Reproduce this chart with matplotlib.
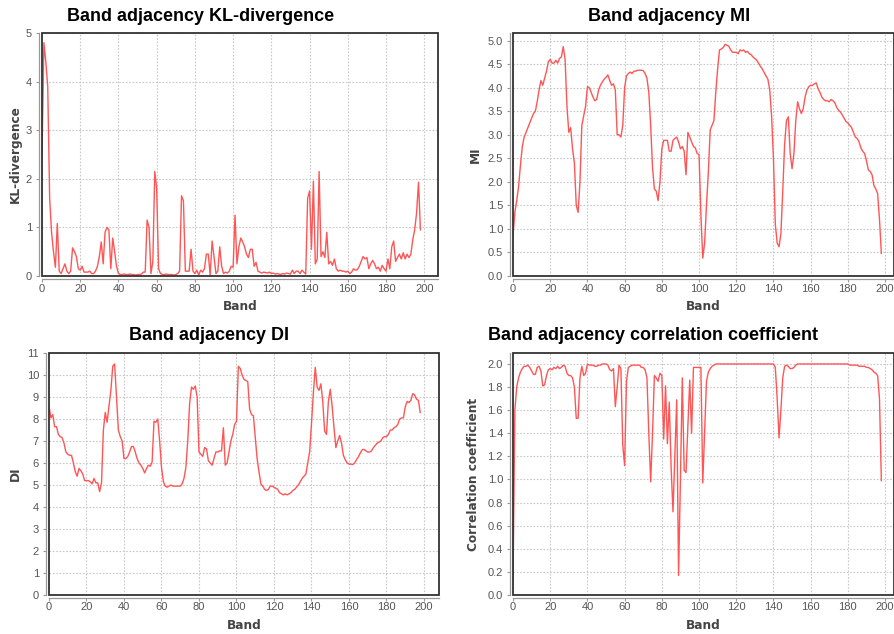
import numpy as np
import matplotlib
matplotlib.use('Agg')
import matplotlib.pyplot as plt
from matplotlib.ticker import MultipleLocator, FormatStrFormatter
from matplotlib.patches import Rectangle

W, H = 895, 634
plt.rcParams['font.family'] = ['Liberation Sans', 'DejaVu Sans']

bands = np.arange(199)

kl_div = [
    2.5, 4.8, 4.4, 3.9, 1.6, 0.9, 0.5, 0.18, 1.08, 0.1,
    0.05, 0.15, 0.25, 0.1, 0.05, 0.1, 0.58, 0.5, 0.4, 0.15,
    0.12, 0.2, 0.08, 0.08, 0.08, 0.1, 0.05, 0.05, 0.1, 0.2,
    0.4, 0.7, 0.25, 0.9, 1.0, 0.95, 0.15, 0.78, 0.5, 0.2,
    0.05, 0.03, 0.03, 0.04, 0.03, 0.03, 0.04, 0.03, 0.03, 0.02,
    0.03, 0.03, 0.04, 0.08, 0.08, 1.15, 1.0, 0.05, 0.3, 2.15,
    1.8, 0.15, 0.05, 0.03, 0.03, 0.04, 0.03, 0.03, 0.03, 0.02,
    0.03, 0.05, 0.1, 1.65, 1.55, 0.1, 0.1, 0.1, 0.55, 0.1,
    0.05, 0.12, 0.02, 0.12, 0.08, 0.15, 0.45, 0.45, 0.02, 0.72,
    0.4, 0.05, 0.1, 0.6, 0.2, 0.05, 0.08, 0.06, 0.1, 0.2,
    0.18, 1.25, 0.25, 0.6, 0.78, 0.7, 0.6, 0.45, 0.38, 0.55,
    0.55, 0.2, 0.28, 0.1, 0.08, 0.06, 0.08, 0.07, 0.06, 0.08,
    0.05, 0.06, 0.04, 0.05, 0.04, 0.03, 0.05, 0.04, 0.06, 0.05,
    0.04, 0.12, 0.05, 0.1, 0.1, 0.05, 0.12, 0.08, 0.04, 1.6,
    1.75, 0.55, 1.95, 0.25, 0.35, 2.15, 0.4, 0.5, 0.38, 0.9,
    0.25, 0.3, 0.22, 0.35, 0.15, 0.1, 0.12, 0.1, 0.1, 0.08,
    0.1, 0.05, 0.08, 0.15, 0.12, 0.13, 0.2, 0.3, 0.4, 0.35,
    0.38, 0.15, 0.25, 0.32, 0.25, 0.15, 0.18, 0.1, 0.22, 0.15,
    0.1, 0.35, 0.15, 0.6, 0.72, 0.3, 0.38, 0.45, 0.35, 0.48,
    0.35, 0.45, 0.38, 0.45, 0.75, 0.95, 1.3, 1.93, 0.95,
]

mi = [
    0.85, 1.35, 1.6, 1.9, 2.35, 2.75, 2.95, 3.05, 3.15, 3.25,
    3.35, 3.45, 3.5, 3.7, 3.95, 4.15, 4.05, 4.2, 4.35, 4.55,
    4.6, 4.52, 4.52, 4.58, 4.52, 4.62, 4.65, 4.87, 4.6, 3.6,
    3.05, 3.15, 2.7, 2.4, 1.5, 1.35, 2.0, 3.2, 3.4, 3.6,
    4.02, 4.0, 3.9, 3.8, 3.72, 3.75, 3.95, 4.05, 4.12, 4.18,
    4.22, 4.27, 4.15, 4.05, 4.08, 3.95, 3.0, 3.0, 2.95, 3.2,
    4.0, 4.25, 4.3, 4.33, 4.3, 4.35, 4.35, 4.37, 4.37, 4.37,
    4.36, 4.3, 4.2, 3.9, 3.2, 2.3, 1.85, 1.8, 1.6, 2.0,
    2.7, 2.88, 2.88, 2.88, 2.65, 2.65, 2.88, 2.92, 2.95, 2.85,
    2.7, 2.75, 2.65, 2.15, 3.05, 2.95, 2.85, 2.75, 2.72, 2.6,
    2.58, 1.3, 0.38, 0.7, 1.5, 2.2, 3.1, 3.2, 3.3, 3.9,
    4.4, 4.8, 4.82, 4.85, 4.92, 4.9, 4.88, 4.8, 4.75, 4.75,
    4.75, 4.72, 4.8, 4.78, 4.8, 4.75, 4.77, 4.72, 4.7, 4.65,
    4.62, 4.58, 4.52, 4.45, 4.4, 4.32, 4.25, 4.18, 3.95, 3.4,
    2.5, 1.1, 0.7, 0.62, 0.9, 1.8, 2.8, 3.3, 3.38, 2.6,
    2.28, 2.6, 3.3, 3.7, 3.55, 3.45, 3.55, 3.8, 3.95, 4.02,
    4.05, 4.05, 4.08, 4.1, 3.98, 3.9, 3.8, 3.75, 3.72, 3.72,
    3.7, 3.75, 3.72, 3.68, 3.58, 3.52, 3.48, 3.42, 3.35, 3.28,
    3.25, 3.2, 3.15, 3.05, 2.95, 2.92, 2.85, 2.72, 2.65, 2.6,
    2.45, 2.25, 2.22, 2.15, 1.92, 1.85, 1.75, 1.2, 0.48,
]

di = [
    8.6, 8.05, 8.2, 7.65, 7.65, 7.3, 7.2, 7.15, 6.9, 6.5,
    6.4, 6.35, 6.35, 6.0, 5.6, 5.4, 5.75, 5.65, 5.5, 5.2,
    5.2, 5.2, 5.15, 5.05, 5.3, 5.1, 5.1, 4.7, 5.1, 7.5,
    8.3, 7.85, 8.6, 9.3, 10.4, 10.5, 9.0, 7.5, 7.2, 7.0,
    6.2, 6.2, 6.3, 6.5, 6.75, 6.75, 6.5, 6.2, 6.0, 5.9,
    5.75, 5.55, 5.75, 5.9, 5.85, 6.05, 7.9, 7.85, 8.0, 7.0,
    5.8, 5.15, 4.95, 4.9, 4.95, 5.0, 4.95, 4.95, 4.95, 4.95,
    4.95, 5.05, 5.3, 5.8, 7.0, 8.7, 9.45, 9.35, 9.5, 9.0,
    6.5, 6.4, 6.3, 6.7, 6.65, 6.1, 6.0, 5.9, 6.2, 6.5,
    6.5, 6.55, 6.55, 7.6, 5.9, 6.0, 6.5, 7.0, 7.3, 7.75,
    7.9, 10.4, 10.3, 10.0, 9.8, 9.75, 9.7, 8.45, 8.2, 8.15,
    7.2, 6.2, 5.6, 5.05, 4.95, 4.8, 4.75, 4.8, 4.95, 4.95,
    4.9, 4.85, 4.8, 4.65, 4.6, 4.55, 4.6, 4.55, 4.6, 4.65,
    4.75, 4.8, 4.9, 5.0, 5.15, 5.3, 5.4, 5.5, 6.0, 6.5,
    7.8, 9.2, 10.35, 9.45, 9.3, 9.6, 8.8, 7.45, 7.3, 8.8,
    9.35, 8.6, 7.6, 6.7, 7.0, 7.25, 6.9, 6.35, 6.15, 6.0,
    5.95, 5.95, 5.93, 6.0, 6.15, 6.28, 6.45, 6.6, 6.62, 6.55,
    6.5, 6.5, 6.55, 6.7, 6.8, 6.9, 6.95, 7.0, 7.15, 7.2,
    7.2, 7.3, 7.5, 7.5, 7.6, 7.65, 7.75, 8.0, 8.05, 8.05,
    8.55, 8.8, 8.75, 8.85, 9.15, 9.1, 8.9, 8.85, 8.3,
]

corr = [
    0.13, 1.6, 1.8, 1.88, 1.93, 1.96, 1.98, 1.98, 1.99, 1.97,
    1.94, 1.91, 1.91, 1.97, 1.98, 1.94, 1.81, 1.82, 1.9, 1.95,
    1.96, 1.95, 1.97, 1.96, 1.98, 1.96, 1.97, 1.99, 1.98, 1.92,
    1.9, 1.9, 1.88, 1.8, 1.53, 1.53, 1.88, 1.98, 1.9, 1.92,
    2.0, 1.99, 1.99, 1.99, 1.98, 1.98, 1.99, 1.99, 2.0, 2.0,
    2.0, 1.99, 1.95, 1.94, 1.96, 1.63, 1.8, 1.99, 1.96, 1.3,
    1.12, 1.85, 1.97, 1.98, 1.99, 1.99, 1.99, 1.99, 1.99, 1.97,
    1.97, 1.95, 1.88, 1.4, 0.98, 1.4, 1.9, 1.88, 1.85, 1.92,
    1.9, 1.35, 1.81, 1.31, 1.67, 1.1, 0.72, 1.2, 1.69, 0.17,
    1.0, 1.88, 1.08, 1.06, 1.45, 1.86, 1.4, 1.97, 1.97, 1.97,
    1.97, 1.97, 0.97, 1.4, 1.85, 1.93, 1.96, 1.98, 1.99, 2.0,
    2.0, 2.0, 2.0, 2.0, 2.0, 2.0, 2.0, 2.0, 2.0, 2.0,
    2.0, 2.0, 2.0, 2.0, 2.0, 2.0, 2.0, 2.0, 2.0, 2.0,
    2.0, 2.0, 2.0, 2.0, 2.0, 2.0, 2.0, 2.0, 2.0, 2.0,
    2.0, 1.97, 1.7, 1.36, 1.6, 1.88, 1.98, 1.99, 1.98, 1.96,
    1.96, 1.97, 1.99, 2.0, 2.0, 2.0, 2.0, 2.0, 2.0, 2.0,
    2.0, 2.0, 2.0, 2.0, 2.0, 2.0, 2.0, 2.0, 2.0, 2.0,
    2.0, 2.0, 2.0, 2.0, 2.0, 2.0, 2.0, 2.0, 2.0, 2.0,
    2.0, 1.99, 1.99, 1.99, 1.99, 1.99, 1.98, 1.98, 1.98, 1.98,
    1.97, 1.97, 1.96, 1.95, 1.93, 1.92, 1.9, 1.7, 0.99,
]

LINE = '#ff5555'
GRID = '#c8c8c8'
TICK = '#555555'
FRAME = '#333333'
LABEL_FONT = ['DejaVu Sans']


def panel(fig, box, xmax, ymax, ystep, yfmt, values, title, title_x, title_y,
          ylabel, ylabel_x):
    # box is (left, top, right, bottom) in pixels from the top-left corner
    x0, y0, x1, y1 = box
    ax = fig.add_axes([x0 / W, 1 - y1 / H, (x1 - x0) / W, (y1 - y0) / H])
    ax.plot(bands, values, color=LINE, lw=1.0, zorder=3)
    ax.set_xlim(0, xmax)
    ax.set_ylim(0, ymax)
    ax.xaxis.set_major_locator(MultipleLocator(20))
    ax.yaxis.set_major_locator(MultipleLocator(ystep))
    ax.yaxis.set_major_formatter(FormatStrFormatter(yfmt))
    ax.grid(True, color=GRID, linestyle=(0, (1.5, 1.5)), linewidth=0.8)

    for s in ('top', 'right'):
        ax.spines[s].set_visible(False)
    for s in ('left', 'bottom'):
        ax.spines[s].set_position(('outward', 2.2))
        ax.spines[s].set_color('#999999')
        ax.spines[s].set_linewidth(0.9)
    ax.add_patch(Rectangle((0, 0), 1, 1, transform=ax.transAxes, fill=False,
                           edgecolor=FRAME, lw=1.3, clip_on=False, zorder=5))

    ax.tick_params(axis='both', colors='#999999', labelcolor=TICK,
                   labelsize=8, length=2, width=0.8, direction='out')
    ax.tick_params(axis='x', pad=1.2)
    ax.tick_params(axis='y', pad=3)

    ax.set_xlabel('Band', fontsize=8.7, fontweight='bold', color='#444444',
                  family=LABEL_FONT)
    ax.xaxis.set_label_coords(0.5, -24.0 / (y1 - y0))
    ax.set_ylabel(ylabel, fontsize=8.7, fontweight='bold', color='#444444',
                  family=LABEL_FONT)
    ax.yaxis.label.set_va('center')
    ax.yaxis.set_label_coords((ylabel_x - x0) / (x1 - x0), 0.5)

    fig.text(title_x / W, 1 - title_y / H, title, ha='center', va='baseline',
             fontsize=13, fontweight='bold', color='black')
    return ax


fig = plt.figure(figsize=(W / 100, H / 100), dpi=100)
fig.patch.set_facecolor('white')

panel(fig, (42, 33, 438, 276), 207.2, 5, 1, '%d', kl_div,
      'Band adjacency KL-divergence', 200.5, 21, 'KL-divergence', 15)
panel(fig, (513, 33, 894, 276), 204.8, 5.16, 0.5, '%.1f', mi,
      'Band adjacency MI', 669, 21, 'MI', 475)
panel(fig, (49, 353, 439, 595), 208, 11, 1, '%d', di,
      'Band adjacency DI', 209, 339.5, 'DI', 15)
panel(fig, (513, 353, 894, 595), 204.8, 2.095, 0.2, '%.1f', corr,
      'Band adjacency correlation coefficient', 652.5, 340,
      'Correlation coefficient', 474)

fig.savefig('out.png', dpi=100)
